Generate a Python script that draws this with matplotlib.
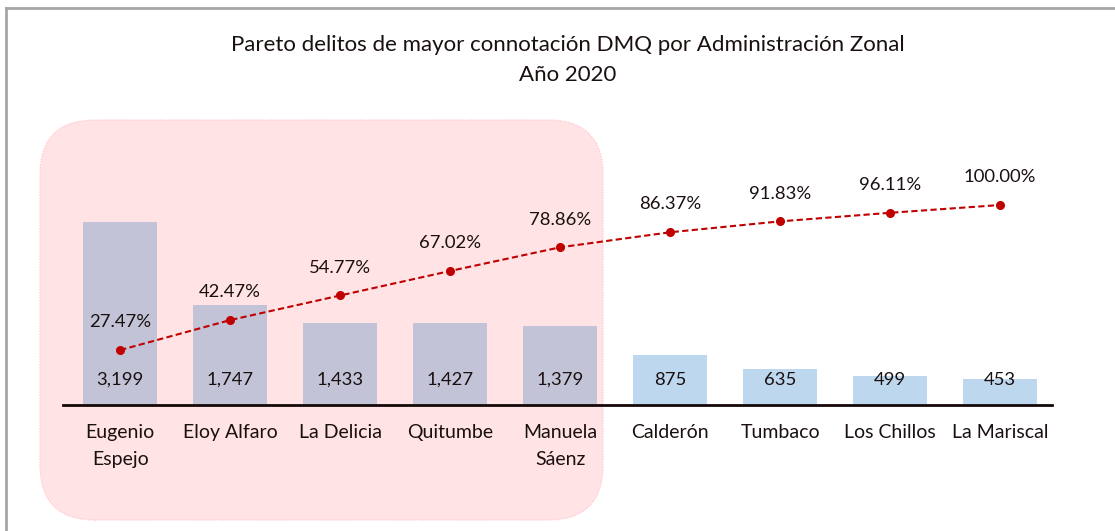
import matplotlib.pyplot as plt
from matplotlib.patches import FancyBboxPatch
from matplotlib.lines import Line2D
import numpy as np

# data
zonas = ["Eugenio\nEspejo", "Eloy Alfaro", "La Delicia", "Quitumbe", "Manuela\nSáenz",
         "Calderón", "Tumbaco", "Los Chillos", "La Mariscal"]
delitos = [3199, 1747, 1433, 1427, 1379, 875, 635, 499, 453]
pct_acum = [27.47, 42.47, 54.77, 67.02, 78.86, 86.37, 91.83, 96.11, 100.00]
n_resaltadas = 5  # zones inside the highlighted box

plt.rcParams['font.family'] = ['Lato', 'DejaVu Sans']
TXT = "#1a1010"

W, H = 1115, 531
fig = plt.figure(figsize=(W / 100, H / 100), dpi=100)

# highlight box behind the first five zones (in inches)
box = FancyBboxPatch((0.40, 0.11), 5.63, 4.00,
                     boxstyle="round,pad=0,rounding_size=0.55",
                     transform=fig.dpi_scale_trans, facecolor="#ffe3e5",
                     edgecolor="#ffcdd1", linewidth=1, linestyle=(0, (1, 1)),
                     zorder=-5)
fig.patches.append(box)

# outer frame
fig.add_artist(Line2D([6 / W, 1], [1 - 8 / H, 1 - 8 / H], transform=fig.transFigure,
                      color="#a6a6a6", lw=2))
fig.add_artist(Line2D([6 / W, 6 / W], [0, 1 - 8 / H], transform=fig.transFigure,
                      color="#a6a6a6", lw=2))

ax = fig.add_axes([63 / W, 126 / H, 989 / W, 275 / H])
ax.patch.set_visible(False)
x = np.arange(len(zonas))
colores = ["#c3c3d8" if i < n_resaltadas else "#bdd7ee" for i in range(len(zonas))]
ax.bar(x, delitos, width=0.67, color=colores, zorder=2)
ax.set_xlim(-0.52, 8.47)
ax.set_ylim(0, 3199 * 275 / 183)
for xi, v in zip(x, delitos):
    ax.annotate(f"{v:,}", (xi, 0), xytext=(0, 18), textcoords="offset points",
                ha="center", va="center", fontsize=13.3, color=TXT, zorder=5)

ax.set_xticks(x)
ax.set_xticklabels(zonas, fontsize=14, color=TXT, linespacing=1.65)
ax.tick_params(axis="x", length=0, pad=14)
ax.set_yticks([])
for s in ["top", "right", "left"]:
    ax.spines[s].set_visible(False)
ax.spines["bottom"].set_linewidth(2)
ax.spines["bottom"].set_color("#140808")

ax2 = ax.twinx()
ax2.set_ylim(0, 137.5)
ax2.plot(x, pct_acum, color="#c00000", lw=1.5, linestyle=(0, (3, 1.6)),
         marker="o", markersize=5.5, zorder=4)
for xi, p in zip(x, pct_acum):
    ax2.annotate(f"{p:.2f}%", (xi, p), xytext=(0, 20), textcoords="offset points",
                 ha="center", va="center", fontsize=13.3, color=TXT)
ax2.set_yticks([])
for s in ax2.spines.values():
    s.set_visible(False)

fig.text(568 / W, 1 - 45 / H, "Pareto delitos de mayor connotación DMQ por Administración Zonal",
         ha="center", va="center", fontsize=16, color=TXT)
fig.text(568 / W, 1 - 75 / H, "Año 2020", ha="center", va="center", fontsize=16, color=TXT)

fig.savefig("out.png", dpi=100)
